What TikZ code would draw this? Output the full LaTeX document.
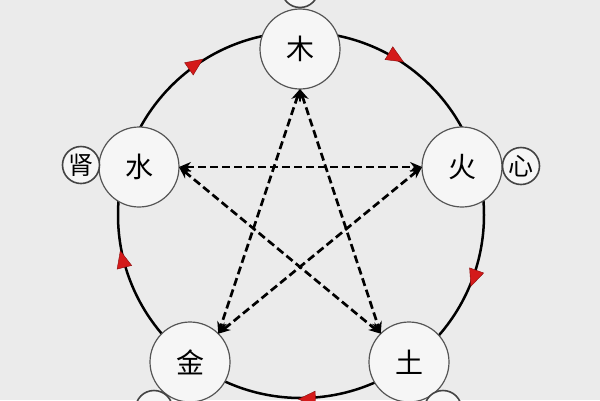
\documentclass[tikz,border=0pt]{standalone}
\usepackage{fontspec}
\newfontfamily\cjk{Noto Sans CJK SC}
\usetikzlibrary{arrows.meta,calc}
\definecolor{bgcol}{HTML}{EBEBEB}
\definecolor{nodefill}{HTML}{F6F6F6}
\definecolor{nodeline}{HTML}{555555}
\definecolor{arrowred}{HTML}{D41A1A}
\definecolor{arrowedge}{HTML}{8A0C0C}
\tikzset{
  bignode/.style={circle, draw=nodeline, line width=1.2pt, fill=nodefill,
    minimum size=80pt, inner sep=0pt, outer sep=0pt,
    font=\cjk\fontsize{28}{28}\selectfont},
  smallnode/.style={circle, draw=nodeline!80!black, line width=1.6pt, fill=nodefill,
    minimum size=37pt, inner sep=0pt, outer sep=0pt,
    font=\cjk\fontsize{25}{25}\selectfont},
  ring/.style={line width=2.5pt, black},
  cyclearrow/.style={fill=arrowred, draw=arrowedge, line width=0.4pt},
  dashline/.style={line width=2.7pt, dash pattern=on 8pt off 4pt,
    {Stealth[length=12pt,width=10pt]}-{Stealth[length=12pt,width=10pt]}}
}
\begin{document}
\begin{tikzpicture}[x=1pt,y=-1pt]
\fill[bgcol] (0,0) rectangle (600,400);
\useasboundingbox (0,0) rectangle (600,400);
\clip (0,0) rectangle (600,400);
\coordinate (c) at (301,215);
% generating cycle ring
\draw[ring] (c) circle[radius=183pt];
\foreach \a in {125,59,340,194,272} {
  \fill[cyclearrow]
    ($(c)+(-\a:184)+(90-\a:9)$) --
    ($(c)+(-\a:184)+(-90-\a:8)+(-\a:7.5)$) --
    ($(c)+(-\a:184)+(-90-\a:8)+(180-\a:7.5)$) -- cycle;
}
% element nodes
\node[bignode] (mu)   at (300,49)  {木};
\node[bignode] (shui) at (139,167) {水};
\node[bignode] (huo)  at (462,167) {火};
\node[bignode] (jin)  at (190,362) {金};
\node[bignode] (tu)   at (409,362) {土};
% organ nodes
\node[smallnode] (shen) at (81,165)  {肾};
\node[smallnode] (xin)  at (521,166) {心};
\node[smallnode] (gan)  at (300,-11) {};
\node[smallnode] (fei)  at (154,409) {};
\node[smallnode] (pi)   at (443,409) {};
% controlling star
\draw[dashline] (shui.east) -- (huo.west);
\draw[dashline] (shui.east) -- (tu.north west);
\draw[dashline] (huo.west) -- (jin.north east);
\draw[dashline] (mu.south) -- (jin.north east);
\draw[dashline] (mu.south) -- (tu.north west);
\end{tikzpicture}
\end{document}
